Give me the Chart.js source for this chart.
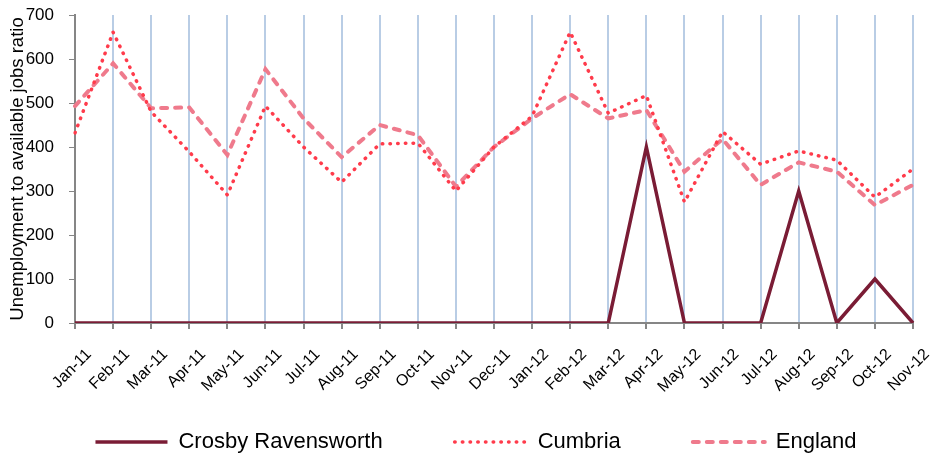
<!DOCTYPE html>
<html>
<head>
<meta charset="utf-8">
<script src="https://cdn.jsdelivr.net/npm/chart.js@4/dist/chart.umd.min.js"></script>
<style>
  html, body { margin: 0; padding: 0; background: #fff; }
  #wrap { width: 932px; height: 454px; }
</style>
</head>
<body>
<div id="wrap"><canvas id="chart"></canvas></div>
<script>
const months = ["Jan-11", "Feb-11", "Mar-11", "Apr-11", "May-11", "Jun-11", "Jul-11", "Aug-11",
  "Sep-11", "Oct-11", "Nov-11", "Dec-11", "Jan-12", "Feb-12", "Mar-12", "Apr-12", "May-12",
  "Jun-12", "Jul-12", "Aug-12", "Sep-12", "Oct-12", "Nov-12"];

const crosby = [0, 0, 0, 0, 0, 0, 0, 0, 0, 0, 0, 0, 0, 0, 0, 400, 0, 0, 0, 300, 0, 100, 0];
const cumbria = [432, 661, 480, 389, 291, 493, 400, 320, 407, 409, 300, 400, 470, 661, 477, 517, 275, 435, 361, 391, 370, 286, 350];
const england = [493, 590, 488, 490, 382, 577, 465, 377, 450, 427, 310, 400, 465, 520, 465, 484, 344, 418, 314, 365, 344, 268, 314];

const yTicks = [0, 100, 200, 300, 400, 500, 600, 700];

const font = "'Liberation Sans', Arial, sans-serif";
const axisGrey = "#868686";

// rotated month labels hang below the (deliberately short) x-axis box, so don't clip them
const unclipX = {
  id: "unclipX",
  afterLayout(chart) {
    chart.scales.x.bottom = chart.height;
  }
};

new Chart(document.getElementById("chart"), {
  type: "line",
  data: {
    labels: months,
    datasets: [
      {
        label: "Crosby Ravensworth",
        data: crosby,
        borderColor: "#7a1c35",
        backgroundColor: "#7a1c35",
        borderWidth: 3.5,
        pointRadius: 0,
        tension: 0
      },
      {
        label: "Cumbria",
        data: cumbria,
        borderColor: "#ff3b4b",
        backgroundColor: "#ff3b4b",
        borderWidth: 3.5,
        borderDash: [0.5, 7.2],
        borderCapStyle: "round",
        pointRadius: 0,
        tension: 0
      },
      {
        label: "England",
        data: england,
        borderColor: "#ef7a8c",
        backgroundColor: "#ef7a8c",
        borderWidth: 4,
        borderDash: [6, 8],
        borderCapStyle: "round",
        pointRadius: 0,
        tension: 0
      }
    ]
  },
  plugins: [unclipX],
  options: {
    responsive: true,
    maintainAspectRatio: false,
    animation: false,
    layout: { padding: { top: 15, right: 0, bottom: -9, left: 20 } },
    plugins: {
      tooltip: { enabled: false },
      legend: {
        position: "bottom",
        labels: {
          usePointStyle: true,
          pointStyle: "line",
          pointStyleWidth: 72,
          padding: 72,
          color: "#000",
          font: { family: font, size: 22 },
          generateLabels: (chart) => {
            const items = Chart.defaults.plugins.legend.labels.generateLabels(chart);
            items.forEach((item, i) => {
              const ds = chart.data.datasets[i];
              item.lineDash = ds.borderDash || [];
              item.lineCap = ds.borderCapStyle || "butt";
            });
            return items;
          }
        }
      }
    },
    scales: {
      x: {
        offset: false,
        afterFit: (scale) => {
          scale.height = 36;
          scale.paddingLeft = 0;
          scale.paddingRight = 19;
        },
        grid: {
          color: (ctx) => (ctx.index === 0 ? "rgba(0,0,0,0)" : "#b9cde5"),
          lineWidth: 2,
          tickColor: axisGrey,
          tickLength: 6
        },
        border: { color: axisGrey, width: 2 },
        ticks: {
          autoSkip: false,
          maxRotation: 45,
          minRotation: 45,
          labelOffset: 14,
          padding: 16,
          color: "#000",
          font: { family: font, size: 16 }
        }
      },
      y: {
        min: 0,
        max: 700,
        afterBuildTicks: (scale) => { scale.ticks = yTicks.map((v) => ({ value: v })); },
        afterFit: (scale) => {
          scale.width = 55;
          scale.paddingTop = 0;
          scale.paddingBottom = 0;
        },
        grid: {
          drawOnChartArea: false,
          tickColor: axisGrey,
          tickLength: 6
        },
        border: { color: axisGrey, width: 2 },
        ticks: {
          padding: 15,
          color: "#000",
          font: { family: font, size: 17 }
        },
        title: {
          display: true,
          text: "Unemployment to available jobs ratio",
          color: "#000",
          padding: { top: -13, bottom: 0 },
          font: { family: font, size: 18.5 }
        }
      }
    }
  }
});
</script>
</body>
</html>
